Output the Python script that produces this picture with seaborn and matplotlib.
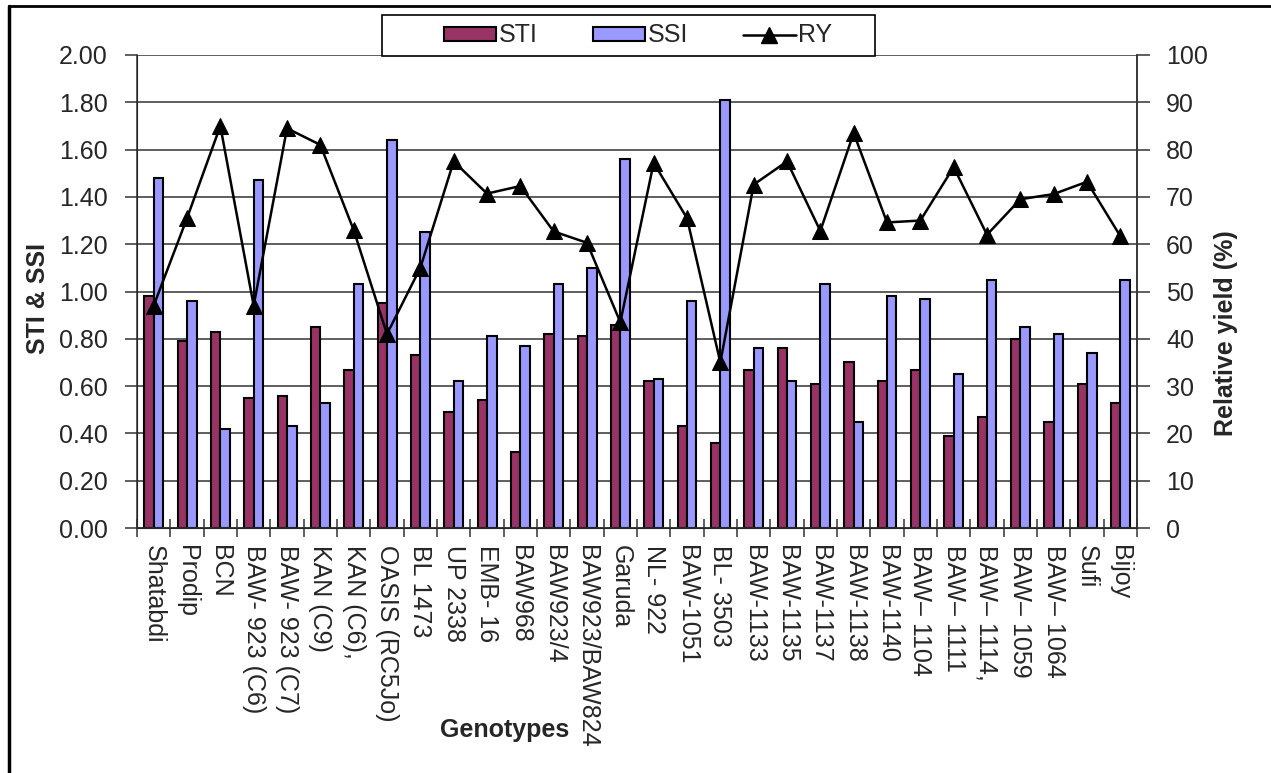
import numpy as np
import pandas as pd
import matplotlib
matplotlib.use("Agg")
import matplotlib.pyplot as plt
import seaborn as sns
from matplotlib.lines import Line2D
from matplotlib.patches import Rectangle, Patch
from matplotlib.ticker import FixedLocator, MultipleLocator

genotypes = ["Shatabdi", "Prodip", "BCN", "BAW- 923 (C6)", "BAW- 923 (C7)", "KAN (C9)",
             "KAN (C6),", "OASIS (RC5Jo)", "BL 1473", "UP 2338", "EMB- 16", "BAW968",
             "BAW923/4", "BAW923/BAW824", "Garuda", "NL- 922", "BAW-1051", "BL- 3503",
             "BAW-1133", "BAW-1135", "BAW-1137", "BAW-1138", "BAW-1140", "BAW\u2013 1104",
             "BAW\u2013 1111", "BAW\u2013 1114,", "BAW\u2013 1059", "BAW\u2013 1064", "Sufi", "Bijoy"]
sti = [0.98, 0.79, 0.83, 0.55, 0.56, 0.85, 0.67, 0.95, 0.73, 0.49, 0.54, 0.32, 0.82, 0.81, 0.86,
       0.62, 0.43, 0.36, 0.67, 0.76, 0.61, 0.70, 0.62, 0.67, 0.39, 0.47, 0.80, 0.45, 0.61, 0.53]
ssi = [1.48, 0.96, 0.42, 1.47, 0.43, 0.53, 1.03, 1.64, 1.25, 0.62, 0.81, 0.77, 1.03, 1.10, 1.56,
       0.63, 0.96, 1.81, 0.76, 0.62, 1.03, 0.45, 0.98, 0.97, 0.65, 1.05, 0.85, 0.82, 0.74, 1.05]
ry = [47, 65.5, 85, 47, 84.5, 81, 63, 41, 55, 77.5, 70.7, 72.3, 62.7, 60.3, 43.5,
      77.2, 65.5, 35, 72.6, 77.5, 62.8, 83.5, 64.6, 65, 76.3, 62, 69.5, 70.6, 73.2, 61.7]
series_names = ["STI", "SSI", "RY"]
left_ticks = [0.0, 0.2, 0.4, 0.6, 0.8, 1.0, 1.2, 1.4, 1.6, 1.8, 2.0]
right_ticks = list(range(0, 101, 10))

W, H = 1271, 773
sns.set_style("white")
plt.rcParams["font.family"] = ["Liberation Sans", "DejaVu Sans"]
FS = 18

df = pd.DataFrame({
    "Genotype": genotypes * 2,
    "Index": [series_names[0]] * len(genotypes) + [series_names[1]] * len(genotypes),
    "Value": sti + ssi,
})

fig = plt.figure(figsize=(W / 100, H / 100), dpi=100)
fig.patch.set_facecolor("white")
L, R, T, B = 137, 1137, 55, 528
ax = fig.add_axes([L / W, 1 - B / H, (R - L) / W, (B - T) / H])

colors = {"STI": "#993366", "SSI": "#9999FF"}
sns.barplot(data=df, x="Genotype", y="Value", hue="Index", palette=colors, ax=ax,
            width=0.57, gap=0, edgecolor="black", linewidth=1.5, saturation=1,
            legend=False, order=genotypes)
ax.set_xlim(-0.5, len(genotypes) - 0.5)
ax.set_ylim(0, 2.0)
ax.set_yticks(left_ticks)
ax.set_yticklabels([f"{v:.2f}" for v in left_ticks], fontsize=FS)
ax.set_axisbelow(True)
ax.yaxis.grid(True, color="#333333", linewidth=1.1)
ax.xaxis.grid(False)
ax.set_xlabel("")
ax.set_ylabel("")
for s in ["top"]:
    ax.spines[s].set_visible(False)
for s in ["left", "right", "bottom"]:
    ax.spines[s].set_color("#333333")
    ax.spines[s].set_linewidth(1.1)
ax.tick_params(axis="y", direction="out", length=9, width=1.1, pad=12, color="#333333", left=True)
ax.set_xticks(range(len(genotypes)))
ax.set_xticklabels(genotypes, rotation=270, fontsize=FS, ha="center", va="top")
ax.tick_params(axis="x", which="major", length=0, pad=12, bottom=True)
ax.xaxis.set_minor_locator(FixedLocator(np.arange(-0.5, len(genotypes), 1.0)))
ax.tick_params(axis="x", which="minor", direction="inout", length=13, width=1.1,
               color="#333333", bottom=True)

ax2 = ax.twinx()
sns.lineplot(x=np.arange(len(genotypes)), y=ry, ax=ax2, color="black", linewidth=1.8,
             marker="^", markersize=12, markeredgecolor="black", markerfacecolor="black")
ax2.set_ylim(0, 100)
ax2.set_yticks(right_ticks)
ax2.set_yticklabels([str(v) for v in right_ticks], fontsize=FS)
ax2.tick_params(axis="y", direction="out", length=9, width=1.1, pad=12, color="#333333", right=True)
ax2.spines["top"].set_visible(False)
ax2.spines["right"].set_color("#333333")
ax2.spines["right"].set_linewidth(1.1)
ax2.set_ylabel("")
ax.set_xlim(-0.5, len(genotypes) - 0.5)

# axis titles
fig.text(38 / W, 1 - 298 / H, "STI & SSI", rotation=90, ha="center", va="center",
         fontsize=FS, fontweight="bold")
fig.text(1226 / W, 1 - 333 / H, "Relative yield (%)", rotation=90, ha="center", va="center",
         fontsize=FS, fontweight="bold")
fig.text(505 / W, 1 - 730 / H, "Genotypes", ha="center", va="center",
         fontsize=FS, fontweight="bold")

# legend
fig.patches.append(Rectangle((382 / W, 1 - 56 / H), (875 - 382) / W, 41 / H,
                             transform=fig.transFigure, facecolor="white",
                             edgecolor="black", linewidth=1.2, zorder=3))
handles = [Patch(facecolor=colors["STI"], edgecolor="black", linewidth=1.5),
           Patch(facecolor=colors["SSI"], edgecolor="black", linewidth=1.5),
           Line2D([], [], color="black", linewidth=1.8, marker="^", markersize=12)]
leg = fig.legend(handles, series_names, loc="center", bbox_to_anchor=(638 / W, 1 - 35.5 / H),
                 ncol=3, frameon=False, fontsize=FS, handlelength=2.1, handleheight=0.5,
                 handletextpad=0.1, columnspacing=2.2, borderpad=0.2)
leg.set_zorder(6)

# outer frame lines
fig.add_artist(Line2D([9 / W, 1], [1 - 6 / H, 1 - 6 / H], transform=fig.transFigure,
                      color="black", linewidth=2))
fig.add_artist(Line2D([9 / W, 9 / W], [0, 1 - 6 / H], transform=fig.transFigure,
                      color="black", linewidth=2.5))

fig.savefig("out.png", dpi=100, facecolor="white")
